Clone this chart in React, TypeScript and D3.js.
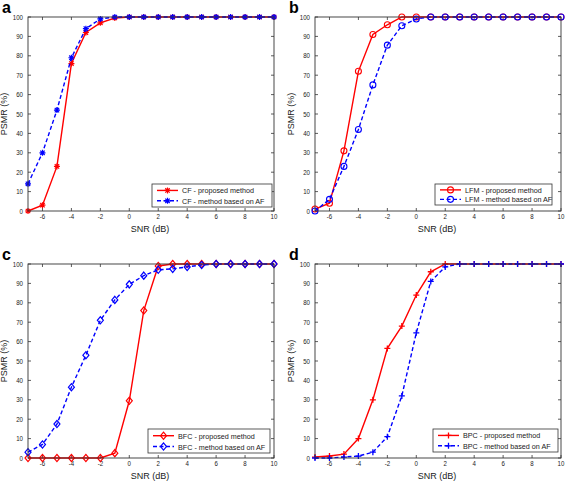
import React from "react";
import * as d3 from "d3";

const snr = [-7, -6, -5, -4, -3, -2, -1, 0, 1, 2, 3, 4, 5, 6, 7, 8, 9, 10];

const cfProposed = [0, 3, 23, 76, 92, 97, 99.5, 100, 100, 100, 100, 100, 100, 100, 100, 100, 100, 100];
const cfAF = [14, 30, 52, 79, 94, 99, 100, 100, 100, 100, 100, 100, 100, 100, 100, 100, 100, 100];

const lfmProposed = [1, 4, 31, 72, 91, 96, 100, 100, 100, 100, 100, 100, 100, 100, 100, 100, 100, 100];
const lfmAF = [0, 6, 23, 42, 65, 85.5, 95.5, 99, 100, 100, 100, 100, 100, 100, 100, 100, 100, 100];

const bfcProposed = [0, 0, 0, 0, 0, 0, 2.5, 29.5, 76, 99, 100, 100, 100, 100, 100, 100, 100, 100];
const bfcAF = [3, 7, 17.5, 36.5, 53, 71, 81.5, 89.5, 94, 97, 97.5, 98.5, 99.5, 100, 100, 100, 100, 100];

const bpcProposed = [0.5, 1, 2, 10, 30, 56.5, 68, 84, 96, 100, 100, 100, 100, 100, 100, 100, 100, 100];
const bpcAF = [0, 0, 0.5, 1, 3, 11, 32, 64.5, 91, 98.5, 100, 100, 100, 100, 100, 100, 100, 100];

const xTicks = [-6, -4, -2, 0, 2, 4, 6, 8, 10];
const yTicks = [0, 10, 20, 30, 40, 50, 60, 70, 80, 90, 100];

const RED = "#ff0000";
const BLUE = "#0000ff";
const AXIS = "#333";
const FONT = "Liberation Sans, Arial, sans-serif";

type MarkerKind = "star" | "circle" | "diamond" | "plus";

function T({
  x,
  y,
  size,
  sx,
  anchor,
  children,
}: {
  x: number;
  y: number;
  size: number;
  sx: number;
  anchor?: "start" | "middle" | "end";
  children: React.ReactNode;
}) {
  return (
    <text
      transform={`translate(${x},${y}) scale(${sx},1)`}
      fontSize={size}
      textAnchor={anchor || "start"}
      fill="#1a1a1a"
    >
      {children}
    </text>
  );
}

function Marker({ kind, x, y, color }: { kind: MarkerKind; x: number; y: number; color: string }) {
  const s = 3;
  if (kind === "circle") return <circle cx={x} cy={y} r={3} fill="none" stroke={color} strokeWidth={1.1} />;
  if (kind === "diamond")
    return (
      <path
        d={`M${x},${y - 3.6}L${x + 3},${y}L${x},${y + 3.6}L${x - 3},${y}Z`}
        fill="none"
        stroke={color}
        strokeWidth={1.2}
      />
    );
  if (kind === "plus")
    return <path d={`M${x - s},${y}H${x + s}M${x},${y - s}V${y + s}`} stroke={color} strokeWidth={1.3} />;
  const d = 2.2;
  return (
    <path
      d={`M${x - s},${y}H${x + s}M${x},${y - s}V${y + s}M${x - d},${y - d}L${x + d},${y + d}M${x - d},${y + d}L${x + d},${y - d}`}
      stroke={color}
      strokeWidth={1.2}
    />
  );
}

type PanelProps = {
  letter: string;
  left: number;
  right: number;
  top: number;
  bottom: number;
  proposed: number[];
  af: number[];
  marker: MarkerKind;
  name: string;
  legend: [number, number, number, number];
};

function Panel({ letter, left, right, top, bottom, proposed, af, marker, name, legend }: PanelProps) {
  const x = d3.scaleLinear().domain([-7, 10]).range([left, right]);
  const y = d3.scaleLinear().domain([0, 100]).range([bottom, top]);
  const line = d3
    .line<number>()
    .x((_, i) => x(snr[i]))
    .y((v) => y(v));
  const [lx0, ly0, lx1, ly1] = legend;
  const h = ly1 - ly0;
  const r1 = ly0 + h * 0.28;
  const r2 = ly0 + h * 0.73;
  const tl = 3;
  return (
    <g fontFamily={FONT}>
      <text x={left - 26} y={top - 4} fontSize={16} fontWeight="bold" fill="#000">
        {letter}
      </text>
      <rect x={left} y={top} width={right - left} height={bottom - top} fill="#fff" />
      {xTicks.map((t) => (
        <g key={"x" + t}>
          <line x1={x(t)} x2={x(t)} y1={bottom} y2={bottom - tl} stroke={AXIS} strokeWidth={0.8} />
          <line x1={x(t)} x2={x(t)} y1={top} y2={top + tl} stroke={AXIS} strokeWidth={0.8} />
          <T x={x(t)} y={bottom + 8.3} size={7.2} sx={0.85} anchor="middle">
            {t}
          </T>
        </g>
      ))}
      {yTicks.map((t) => (
        <g key={"y" + t}>
          <line x1={left} x2={left + tl} y1={y(t)} y2={y(t)} stroke={AXIS} strokeWidth={0.8} />
          <line x1={right} x2={right - tl} y1={y(t)} y2={y(t)} stroke={AXIS} strokeWidth={0.8} />
          <T x={left - 5} y={y(t) + 2.6} size={7.2} sx={0.85} anchor="end">
            {t}
          </T>
        </g>
      ))}
      <path d={line(proposed) || ""} fill="none" stroke={RED} strokeWidth={1.4} />
      {proposed.map((v, i) => (
        <Marker key={"p" + i} kind={marker} x={x(snr[i])} y={y(v)} color={RED} />
      ))}
      <path d={line(af) || ""} fill="none" stroke={BLUE} strokeWidth={1.4} strokeDasharray="4,2.5" />
      {af.map((v, i) => (
        <Marker key={"a" + i} kind={marker} x={x(snr[i])} y={y(v)} color={BLUE} />
      ))}
      <rect x={left} y={top} width={right - left} height={bottom - top} fill="none" stroke={AXIS} strokeWidth={0.9} />
      <T x={(left + right) / 2 - 1} y={bottom + 20.5} size={9} sx={1} anchor="middle">
        SNR (dB)
      </T>
      <text
        transform={`translate(${left - 21},${(top + bottom) / 2}) rotate(-90)`}
        fontSize={9}
        textAnchor="middle"
        fill="#1a1a1a"
      >
        PSMR (%)
      </text>
      <rect x={lx0} y={ly0} width={lx1 - lx0} height={h} fill="#fff" stroke={AXIS} strokeWidth={0.8} />
      <line x1={lx0 + 5} x2={lx0 + 26} y1={r1} y2={r1} stroke={RED} strokeWidth={1.4} />
      <Marker kind={marker} x={lx0 + 15.5} y={r1} color={RED} />
      <line x1={lx0 + 5} x2={lx0 + 26} y1={r2} y2={r2} stroke={BLUE} strokeWidth={1.4} strokeDasharray="4,2.5" />
      <Marker kind={marker} x={lx0 + 15.5} y={r2} color={BLUE} />
      <T x={lx0 + 30} y={r1 + 3} size={8} sx={0.9}>
        {name} - proposed method
      </T>
      <T x={lx0 + 30} y={r2 + 3} size={8} sx={0.9}>
        {name} - method based on AF
      </T>
    </g>
  );
}

export default function App() {
  return (
    <svg width={567} height={481} style={{ position: "absolute", left: 0, top: 0, background: "#fff" }}>
      <rect width={567} height={481} fill="#fff" />
      <Panel letter="a" left={28} right={274} top={17} bottom={211} proposed={cfProposed} af={cfAF} marker="star" name="CF" legend={[152, 184, 272, 207]} />
      <Panel letter="b" left={315} right={561} top={17} bottom={211} proposed={lfmProposed} af={lfmAF} marker="circle" name="LFM" legend={[435, 184, 552, 205]} />
      <Panel letter="c" left={28} right={274} top={264} bottom={458} proposed={bfcProposed} af={bfcAF} marker="diamond" name="BFC" legend={[148, 429, 270, 453]} />
      <Panel letter="d" left={315} right={561} top={264} bottom={458} proposed={bpcProposed} af={bpcAF} marker="plus" name="BPC" legend={[433, 429, 558, 452]} />
    </svg>
  );
}
